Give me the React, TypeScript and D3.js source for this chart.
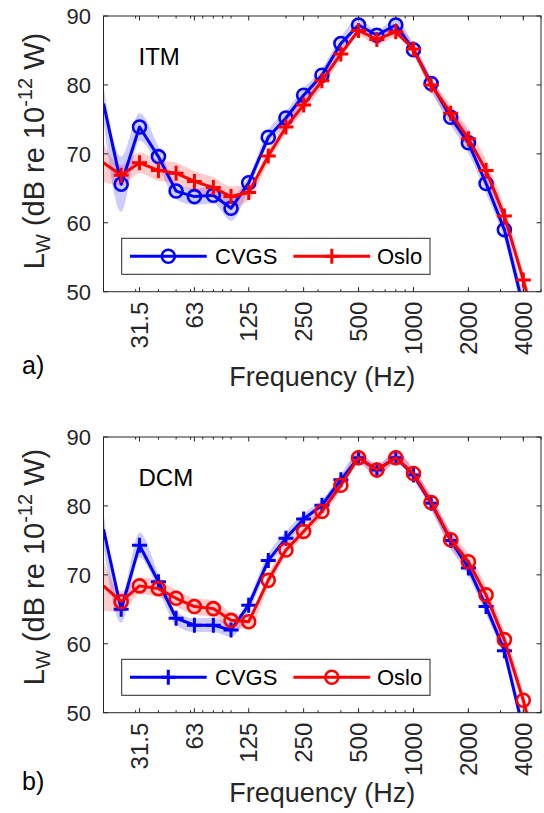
import React from "react";
import * as d3 from "d3";

const freqs = [20, 25, 31.5, 40, 50, 63, 80, 100, 125, 160, 200, 250, 315, 400, 500, 630, 800, 1000, 1250, 1600, 2000, 2500, 3150, 4000, 5000];

const itmCvgs = [77.3, 65.6, 73.9, 69.6, 64.6, 63.8, 64.0, 62.1, 65.8, 72.4, 75.2, 78.5, 81.4, 86.0, 88.7, 87.2, 88.7, 85.1, 80.2, 75.3, 71.6, 65.7, 59.0, 47.8, 37.0];
const itmOslo = [68.7, 66.9, 68.7, 67.6, 67.2, 66.0, 65.1, 63.8, 64.4, 69.7, 73.9, 77.1, 80.6, 84.5, 87.9, 86.6, 87.7, 85.2, 80.0, 75.9, 72.2, 67.6, 61.0, 51.7, 42.0];
const dcmCvgs = [76.6, 65.0, 74.3, 69.0, 63.7, 62.7, 62.7, 62.0, 65.6, 72.1, 75.3, 78.1, 80.1, 83.8, 87.0, 85.2, 87.0, 84.5, 80.4, 75.0, 71.0, 65.4, 59.0, 47.5, 37.0];
const dcmOslo = [68.4, 66.1, 68.4, 68.0, 66.6, 65.4, 65.1, 63.4, 63.2, 69.2, 73.6, 76.3, 79.2, 83.0, 87.0, 85.2, 87.0, 84.7, 80.5, 75.1, 71.9, 67.1, 60.6, 51.8, 42.0];

const itmCvgsBand = [2.5, 4.0, 2.0, 1.5, 1.2, 1.2, 1.2, 1.8, 1.0, 1.0, 1.0, 1.0, 1.0, 1.0, 0.8, 0.8, 0.8, 0.8, 1.0, 1.2, 1.5, 1.5, 1.5, 1.5, 1.5];
const itmOsloBand = [2.8, 1.5, 1.5, 1.5, 1.5, 1.5, 1.5, 1.5, 1.2, 1.0, 1.0, 1.0, 1.0, 0.8, 0.8, 0.8, 0.8, 0.8, 1.0, 1.2, 1.5, 1.5, 1.2, 1.2, 1.2];
const dcmCvgsBand = [2.5, 2.0, 1.8, 1.2, 1.0, 1.0, 1.0, 1.0, 1.0, 1.0, 1.0, 0.8, 0.8, 0.8, 0.8, 0.8, 0.8, 0.8, 1.0, 1.2, 1.2, 1.2, 1.2, 1.2, 1.2];
const dcmOsloBand = [3.6, 1.5, 1.2, 1.2, 1.2, 1.2, 1.2, 1.2, 1.0, 1.0, 0.8, 0.8, 0.8, 0.8, 0.8, 0.8, 0.8, 0.8, 1.0, 1.2, 1.2, 1.2, 1.2, 1.2, 1.2];

const xTickValues = [31.5, 63, 125, 250, 500, 1000, 2000, 4000];
const xTickLabels = ["31.5", "63", "125", "250", "500", "1000", "2000", "4000"];
const xMinorTicks = [20, 30, 40, 50, 60, 70, 80, 90, 100, 200, 300, 400, 500, 600, 700, 800, 900, 1000, 2000, 3000, 4000, 5000];
const yTickValues = [50, 60, 70, 80, 90];
const seriesNames = ["CVGS", "Oslo"];
const panelTitles = ["ITM", "DCM"];
const panelLetters = ["a)", "b)"];

const BLUE = "#0000ff";
const RED = "#ff0000";
const AX = "#262626";
const FONT = "'Liberation Sans', Arial, Helvetica, sans-serif";

type Marker = "circle" | "plus";

function MarkerShape({ x, y, type, color }: { x: number; y: number; type: Marker; color: string }) {
  if (type === "circle") {
    return <circle cx={x} cy={y} r={6.5} fill="none" stroke={color} strokeWidth={2.6} />;
  }
  const a = 7.5;
  return (
    <path d={`M${x - a},${y}H${x + a}M${x},${y - a}V${y + a}`} stroke={color} strokeWidth={3} fill="none" />
  );
}

function Panel({ idx, top, textShift, blue, red, blueBand, redBand, blueMarker, redMarker }: any) {
  const left = 103.5;
  const right = 541;
  const bottom = top + 275.7;
  const x = d3.scaleLog().domain([20, 5000]).range([left, right]);
  const y = d3.scaleLinear().domain([50, 90]).range([bottom, top]);
  const clipId = `clip${idx}`;
  const line = d3
    .line<number>()
    .x((_, i) => x(freqs[i]))
    .y((d) => y(d));
  const area = (vals: number[], band: number[]) =>
    d3
      .area<number>()
      .x((_, i) => x(freqs[i]))
      .y0((d, i) => y(d - band[i]))
      .y1((d, i) => y(d + band[i]))
      .curve(d3.curveMonotoneX)(vals) as string;
  const inside = (f: number, v: number) => f > 20 && f < 5000 && v >= 50 && v <= 90;
  const majorLen = 4.5;
  const minorLen = 2.5;
  const yMid = top + 135 + textShift;
  const legTop = top + 222.3;
  const legBot = top + 258.3;
  const legMid = (legTop + legBot) / 2;
  return (
    <g>
      <defs>
        <clipPath id={clipId}>
          <rect x={left} y={top} width={right - left} height={bottom - top} />
        </clipPath>
      </defs>
      <rect x={left} y={top} width={right - left} height={bottom - top} fill="#fff" />
      <g clipPath={`url(#${clipId})`}>
        <path d={area(blue, blueBand)} fill={BLUE} fillOpacity={0.2} stroke="none" />
        <path d={area(red, redBand)} fill={RED} fillOpacity={0.2} stroke="none" />
        <path d={line(blue) as string} fill="none" stroke={BLUE} strokeWidth={3} strokeLinejoin="round" />
      </g>
      {blue.map((v: number, i: number) =>
        inside(freqs[i], v) ? <MarkerShape key={"b" + i} x={x(freqs[i])} y={y(v)} type={blueMarker} color={BLUE} /> : null
      )}
      <g clipPath={`url(#${clipId})`}>
        <path d={line(red) as string} fill="none" stroke={RED} strokeWidth={3} strokeLinejoin="round" />
      </g>
      {red.map((v: number, i: number) =>
        inside(freqs[i], v) ? <MarkerShape key={"r" + i} x={x(freqs[i])} y={y(v)} type={redMarker} color={RED} /> : null
      )}
      {/* axes box */}
      <rect x={left} y={top} width={right - left} height={bottom - top} fill="none" stroke={AX} strokeWidth={1} />
      {xMinorTicks.map((f) => (
        <g key={"m" + f}>
          <line x1={x(f)} x2={x(f)} y1={bottom} y2={bottom - minorLen} stroke={AX} />
          <line x1={x(f)} x2={x(f)} y1={top} y2={top + minorLen} stroke={AX} />
        </g>
      ))}
      {xTickValues.map((f, i) => (
        <g key={"t" + f}>
          <line x1={x(f)} x2={x(f)} y1={bottom} y2={bottom - majorLen} stroke={AX} />
          <line x1={x(f)} x2={x(f)} y1={top} y2={top + majorLen} stroke={AX} />
          <text
            transform={`translate(${x(f)},${bottom + 10}) rotate(-90)`}
            textAnchor="end"
            dy="0.36em"
            fontSize={24}
            fill={AX}
            fontFamily={FONT}
          >
            {xTickLabels[i]}
          </text>
        </g>
      ))}
      {yTickValues.map((v) => (
        <g key={"y" + v}>
          <line x1={left} x2={left + majorLen} y1={y(v)} y2={y(v)} stroke={AX} />
          <line x1={right} x2={right - majorLen} y1={y(v)} y2={y(v)} stroke={AX} />
          <text x={91} y={y(v)} dy="0.36em" textAnchor="end" fontSize={22} fill={AX} fontFamily={FONT}>
            {v}
          </text>
        </g>
      ))}
      <text x={138.5} y={top + 48.5} fontSize={24} fill="#000" fontFamily={FONT}>
        {panelTitles[idx]}
      </text>
      {/* y label */}
      <text transform={`translate(44,${yMid}) rotate(-90)`} textAnchor="middle" fontSize={29} fill={AX} fontFamily={FONT}>
        <tspan>L</tspan>
        <tspan fontSize={20} dy={6}>W</tspan>
        <tspan dy={-6}> (dB re 10</tspan>
        <tspan fontSize={20} dy={-12}>-12</tspan>
        <tspan dy={12}> W)</tspan>
      </text>
      {/* x label */}
      <text x={(left + right) / 2} y={top + 370 + textShift} textAnchor="middle" fontSize={27} fill={AX} fontFamily={FONT}>
        Frequency (Hz)
      </text>
      <text x={22} y={top + 358 + textShift} fontSize={25} fill="#000" fontFamily={FONT}>
        {panelLetters[idx]}
      </text>
      {/* legend */}
      <rect x={121.7} y={legTop} width={308.3} height={legBot - legTop} fill="#fff" stroke={AX} strokeWidth={1} />
      <line x1={130} x2={206.7} y1={legMid} y2={legMid} stroke={BLUE} strokeWidth={3} />
      <MarkerShape x={168.3} y={legMid} type={blueMarker} color={BLUE} />
      <text x={215} y={legMid} dy="0.36em" fontSize={22} fill="#000" fontFamily={FONT}>
        {seriesNames[0]}
      </text>
      <line x1={293.4} x2={370.2} y1={legMid} y2={legMid} stroke={RED} strokeWidth={3} />
      <MarkerShape x={331.8} y={legMid} type={redMarker} color={RED} />
      <text x={377} y={legMid} dy="0.36em" fontSize={22} fill="#000" fontFamily={FONT}>
        {seriesNames[1]}
      </text>
    </g>
  );
}

export default function App() {
  return (
    <svg width={544} height={813} style={{ position: "absolute", left: 0, top: 0, background: "#fff" }}>
      <rect width={544} height={813} fill="#fff" />
      <Panel idx={0} top={16} textShift={0} blue={itmCvgs} red={itmOslo} blueBand={itmCvgsBand} redBand={itmOsloBand} blueMarker="circle" redMarker="plus" />
      <Panel idx={1} top={437} textShift={-5} blue={dcmCvgs} red={dcmOslo} blueBand={dcmCvgsBand} redBand={dcmOsloBand} blueMarker="plus" redMarker="circle" />
    </svg>
  );
}
